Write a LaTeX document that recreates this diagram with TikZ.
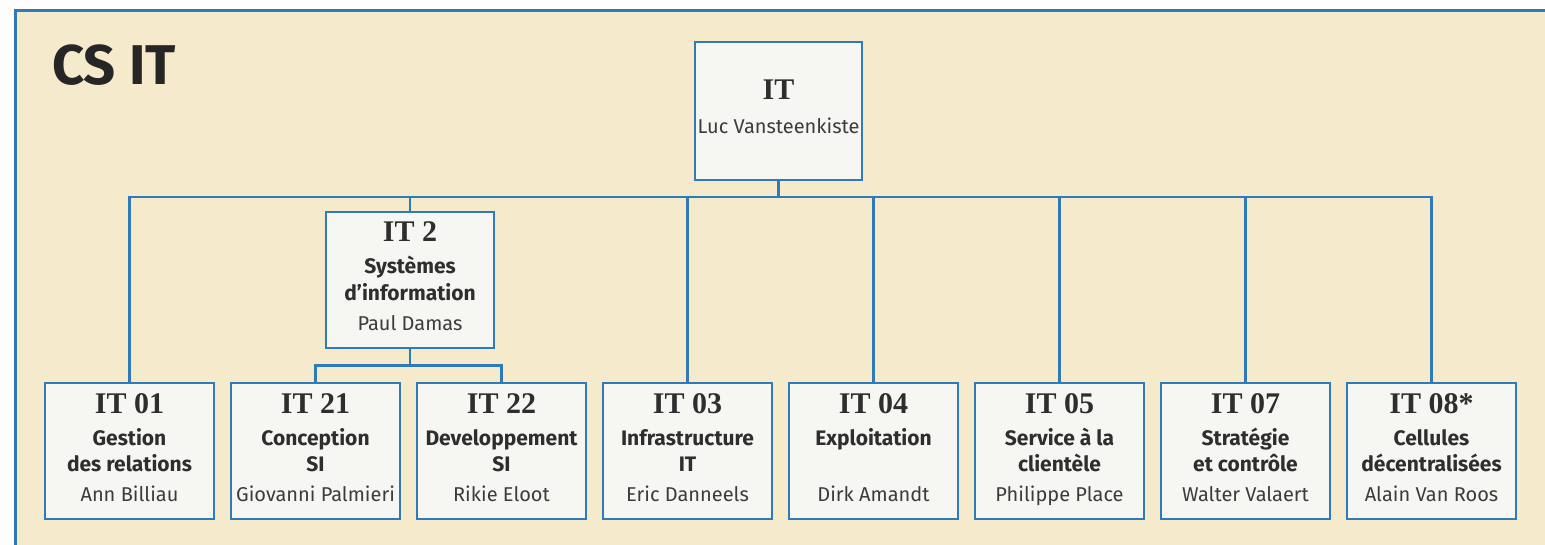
\documentclass[tikz,border=0pt]{standalone}
\usepackage{fontspec}
\setmainfont{Fira Sans}
\newfontfamily\headfont{Liberation Serif}
\definecolor{bgbeige}{HTML}{F5EACB}
\definecolor{lineblue}{HTML}{2F7AB8}
\definecolor{boxfill}{HTML}{F6F6F3}
\definecolor{textdark}{HTML}{2E2E2E}
\definecolor{textname}{HTML}{3C3C3C}
\tikzset{
  orgbox/.style={draw=lineblue, line width=2.6pt, fill=boxfill, minimum width=169pt, minimum height=136pt, inner sep=0pt},
  conn/.style={draw=lineblue, line width=2.4pt},
  headtxt/.style={anchor=base, inner sep=0pt, text=textdark, font=\headfont\bfseries\fontsize{30}{30}\selectfont},
  subtxt/.style={anchor=base, inner sep=0pt, text=textdark, font=\bfseries\fontsize{21}{21}\selectfont},
  persontxt/.style={anchor=base, inner sep=0pt, text=textname, font=\fontsize{20}{20}\selectfont},
}
\newcommand\orgunit[6]{%
  \node[orgbox] (#1) at (#2) {};
  \node[headtxt] (#1-h) at ([yshift=-32pt]#1.north) {#3};
  \node[subtxt] (#1-a) at ([yshift=-64pt]#1.north) {#4};
  \node[subtxt] (#1-b) at ([yshift=-90pt]#1.north) {#5};
  \node[persontxt] (#1-p) at ([yshift=-120pt]#1.north) {#6};
}
\begin{document}
\begin{tikzpicture}[x=1pt,y=-1pt]
\useasboundingbox (0,0) rectangle (1545,545);
\fill[white!97!bgbeige] (0,0) rectangle (1545,545);
\fill[bgbeige] (15,11) rectangle (1545,545);
\draw[lineblue, line width=3pt] (15,545) -- (15,11) -- (1545,11);

\node[anchor=base west, inner sep=0pt, text=black!85, font=\bfseries\fontsize{56}{56}\selectfont] (title) at (52,85) {CS IT};

% top box
\node[orgbox, minimum width=167pt, minimum height=138pt] (it) at (778.5,111) {};
\node[headtxt] (it-h) at ([yshift=-59pt]it.north) {IT};
\node[persontxt] (it-p) at ([yshift=-93pt]it.north) {Luc Vansteenkiste};

% IT 2
\node[orgbox, minimum width=168pt] (it2) at (410,280) {};
\node[headtxt] (it2-h) at ([yshift=-31pt]it2.north) {IT 2};
\node[subtxt] (it2-a) at ([yshift=-63pt]it2.north) {Systèmes};
\node[subtxt] (it2-b) at ([yshift=-90pt]it2.north) {d’information};
\node[persontxt] (it2-p) at ([yshift=-120pt]it2.north) {Paul Damas};

% bottom row
\orgunit{it01}{129.5,451}{IT 01}{Gestion}{des relations}{Ann Billiau}
\orgunit{it21}{315.5,451}{IT 21}{Conception}{SI}{Giovanni Palmieri}
\orgunit{it22}{501.5,451}{IT 22}{Developpement}{SI}{Rikie Eloot}
\orgunit{it03}{687.5,451}{IT 03}{Infrastructure}{IT}{Eric Danneels}
\orgunit{it04}{873.5,451}{IT 04}{Exploitation}{}{Dirk Amandt}
\orgunit{it05}{1059.5,451}{IT 05}{Service à la}{clientèle}{Philippe Place}
\orgunit{it07}{1245.5,451}{IT 07}{Stratégie}{et contrôle}{Walter Valaert}
\orgunit{it08}{1431.5,451}{IT 08*}{Cellules}{décentralisées}{Alain Van Roos}

% connectors
\draw[conn] (it.south) -- ++(0,16) coordinate (busa);
\foreach \c in {it01,it2,it03,it04,it05,it07,it08}
  \draw[conn] (busa) -| (\c.north);
\draw[conn] (it2.south) -- ++(0,16) coordinate (busb);
\foreach \c in {it21,it22}
  \draw[conn] (busb) -| (\c.north);
\end{tikzpicture}
\end{document}
